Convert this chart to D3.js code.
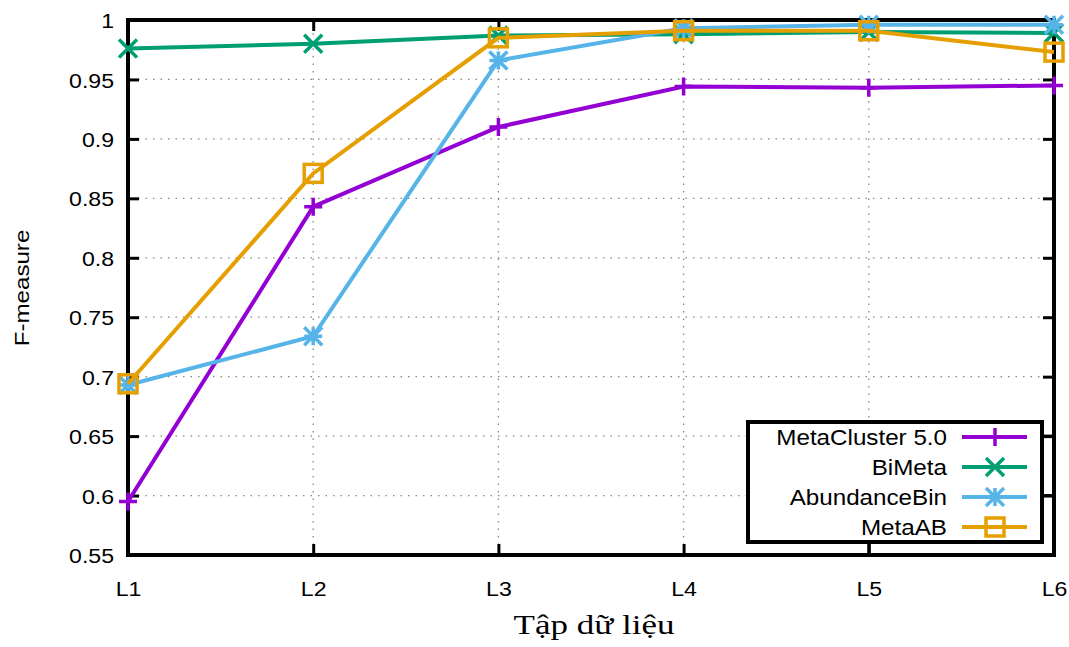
<!DOCTYPE html>
<html>
<head>
<meta charset="utf-8">
<script src="https://cdn.jsdelivr.net/npm/d3@7"></script>
<style>
body { margin: 0; background: #fff; }
svg { display: block; }
</style>
</head>
<body>
<svg></svg>
<script>
var width = 1069;
var height = 647;

var margin = {
	top: 20,
	left: 128,
	bottom: 92,
	right: 15
};

// data
var categories = ["L1", "L2", "L3", "L4", "L5", "L6"];
var yTicks = [0.55, 0.6, 0.65, 0.7, 0.75, 0.8, 0.85, 0.9, 0.95, 1];
var seriesNames = ["MetaCluster 5.0", "BiMeta", "AbundanceBin", "MetaAB"];
var seriesColors = ["#9400d3", "#009e73", "#56b4e9", "#e69f00"];
var seriesMarkers = ["plus", "cross", "star", "square"];
var metaCluster = [0.595, 0.843, 0.910, 0.944, 0.943, 0.945];
var biMeta = [0.976, 0.980, 0.987, 0.988, 0.990, 0.989];
var abundanceBin = [0.693, 0.734, 0.966, 0.993, 0.996, 0.996];
var metaAB = [0.694, 0.871, 0.985, 0.991, 0.991, 0.973];
var seriesValues = [metaCluster, biMeta, abundanceBin, metaAB];

var sansFont = "'Liberation Sans', Arial, sans-serif";
var sx = 1.1; // text in the picture is a bit wider than tall

var svg = d3.select("svg")
	.attr("width", width)
	.attr("height", height);

var x0 = margin.left, x1 = width - margin.right;
var y0 = height - margin.bottom, y1 = margin.top;

var xScale = d3.scalePoint().domain(categories).range([x0, x1]);
var yScale = d3.scaleLinear().domain([0.55, 1]).range([y0, y1]);

// grid (dotted)
var grid = svg.append("g").attr("stroke", "#888").attr("stroke-width", 1.3).attr("stroke-dasharray", "1.5,6");
yTicks.slice(1, -1).forEach(function(t) {
	grid.append("line")
		.attr("x1", x0 + 10).attr("x2", x1 - 10)
		.attr("y1", yScale(t)).attr("y2", yScale(t));
});
categories.slice(1, -1).forEach(function(c) {
	grid.append("line")
		.attr("x1", xScale(c)).attr("x2", xScale(c))
		.attr("y1", y0 - 10).attr("y2", y1 + 10);
});

// axes with inward ticks, mirrored
var yAxisL = svg.append("g")
	.attr("transform", `translate(${x0}, 0)`)
	.call(d3.axisLeft(yScale).tickValues(yTicks).tickSize(-11).tickPadding(14)
		.tickFormat(function(d) { return d3.format("")(+d.toFixed(2)); }));
var yAxisR = svg.append("g")
	.attr("transform", `translate(${x1}, 0)`)
	.call(d3.axisRight(yScale).tickValues(yTicks).tickSize(-11).tickFormat(""));
var xAxisB = svg.append("g")
	.attr("transform", `translate(0, ${y0})`)
	.call(d3.axisBottom(xScale).tickSize(-11).tickPadding(26));
var xAxisT = svg.append("g")
	.attr("transform", `translate(0, ${y1})`)
	.call(d3.axisTop(xScale).tickSize(-11).tickFormat(""));

[yAxisL, yAxisR, xAxisB, xAxisT].forEach(function(a) {
	a.select(".domain").remove();
	a.selectAll(".tick line").attr("stroke", "#000").attr("stroke-width", 3);
	a.selectAll("text")
		.attr("fill", "#000")
		.style("font-family", sansFont)
		.style("font-size", "21px");
});
yAxisL.selectAll("text").attr("dy", "0.36em")
	.attr("x", -14 / sx).attr("transform", `scale(${sx},1)`);
xAxisB.selectAll("text").attr("dy", "0.7em")
	.attr("transform", `scale(${sx},1)`);

// border
svg.append("rect")
	.attr("x", x0).attr("y", y1)
	.attr("width", x1 - x0).attr("height", y0 - y1)
	.attr("fill", "none").attr("stroke", "#000").attr("stroke-width", 4);

// axis titles
svg.append("text")
	.attr("text-anchor", "middle")
	.attr("transform", "translate(29,288)rotate(-90)scale(1.15,1)")
	.style("font-family", sansFont)
	.style("font-size", "21px")
	.text("F-measure");

svg.append("text")
	.attr("text-anchor", "middle")
	.attr("transform", "translate(594,634)scale(1.25,1)")
	.style("font-family", "'Liberation Serif', 'Times New Roman', serif")
	.style("font-size", "28px")
	.text("Tập dữ liệu");

// markers
function drawMarker(g, type, cx, cy, color) {
	var s = 9;
	if (type == "plus") {
		g.append("path").attr("d", `M${cx - s},${cy}H${cx + s}M${cx},${cy - s}V${cy + s}`)
			.attr("stroke", color).attr("stroke-width", 3.5).attr("fill", "none");
	} else if (type == "cross") {
		g.append("path").attr("d", `M${cx - s},${cy - s}L${cx + s},${cy + s}M${cx - s},${cy + s}L${cx + s},${cy - s}`)
			.attr("stroke", color).attr("stroke-width", 3.5).attr("fill", "none");
	} else if (type == "star") {
		g.append("path").attr("d", `M${cx - s},${cy}H${cx + s}M${cx},${cy - s}V${cy + s}M${cx - s},${cy - s}L${cx + s},${cy + s}M${cx - s},${cy + s}L${cx + s},${cy - s}`)
			.attr("stroke", color).attr("stroke-width", 3.5).attr("fill", "none");
	} else {
		g.append("rect").attr("x", cx - s).attr("y", cy - s).attr("width", 2 * s).attr("height", 2 * s)
			.attr("stroke", color).attr("stroke-width", 3.5).attr("fill", "none");
	}
}

var valueline = d3.line()
	.x(function(d, i) { return xScale(categories[i]); })
	.y(function(d) { return yScale(d); });

seriesValues.forEach(function(vals, k) {
	var g = svg.append("g");
	g.append("path")
		.attr("d", valueline(vals))
		.attr("fill", "none")
		.attr("stroke", seriesColors[k])
		.attr("stroke-width", 4);
	vals.forEach(function(v, i) {
		drawMarker(g, seriesMarkers[k], xScale(categories[i]), yScale(v), seriesColors[k]);
	});
});

// legend
var lx = 748, ly = 422, lw = 294, lh = 120;
var legend = svg.append("g");
legend.append("rect")
	.attr("x", lx).attr("y", ly).attr("width", lw).attr("height", lh)
	.attr("fill", "#fff").attr("stroke", "#000").attr("stroke-width", 4);
// ticks that gnuplot draws over the key
legend.append("line").attr("x1", xScale("L5")).attr("x2", xScale("L5"))
	.attr("y1", y0).attr("y2", ly + lh).attr("stroke", "#000").attr("stroke-width", 3);
[0.65, 0.6].forEach(function(t) {
	legend.append("line").attr("x1", lx + lw).attr("x2", x1)
		.attr("y1", yScale(t)).attr("y2", yScale(t)).attr("stroke", "#000").attr("stroke-width", 3);
});
seriesNames.forEach(function(name, k) {
	var ry = ly + 15 + k * 30;
	legend.append("text")
		.attr("transform", `translate(947,${ry})scale(1.1,1)`)
		.attr("dy", "0.36em")
		.attr("text-anchor", "end")
		.style("font-family", sansFont)
		.style("font-size", "22px")
		.text(name);
	legend.append("line")
		.attr("x1", 962).attr("x2", 1027).attr("y1", ry).attr("y2", ry)
		.attr("stroke", seriesColors[k]).attr("stroke-width", 4);
	drawMarker(legend, seriesMarkers[k], 995, ry, seriesColors[k]);
});
</script>
</body>
</html>
